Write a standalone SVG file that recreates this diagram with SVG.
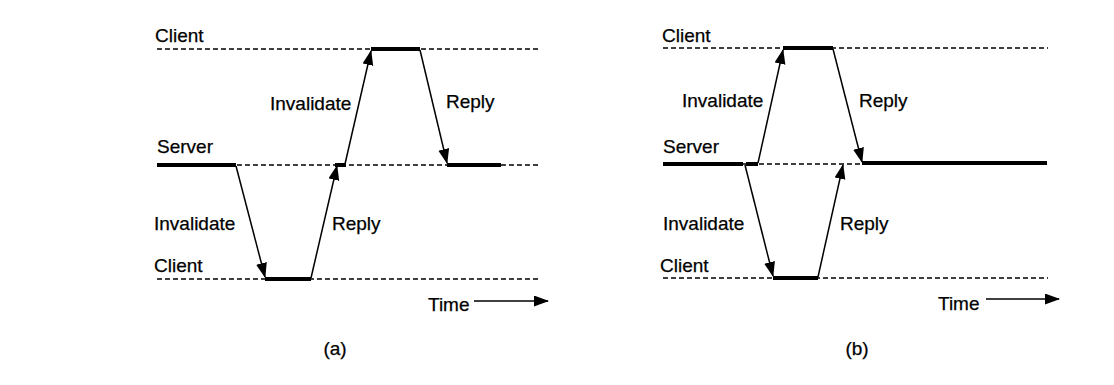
<svg xmlns="http://www.w3.org/2000/svg" width="1114" height="385" viewBox="0 0 1114 385">
<defs>
<marker id="ah" markerUnits="userSpaceOnUse" markerWidth="16" markerHeight="12" refX="14" refY="5.5" orient="auto">
<path d="M0,0 L15,5.5 L0,11 Z" fill="#000"/>
</marker>
<style>
.t{font-family:"Liberation Sans",Arial,sans-serif;font-size:19px;fill:#000;stroke:#000;stroke-width:0.25}
.d{stroke:#000;stroke-width:1.5;stroke-dasharray:5 3;fill:none}
.k{stroke:#000;stroke-width:4;fill:none}
.a{stroke:#000;stroke-width:1.5;fill:none;marker-end:url(#ah)}
</style>
</defs>
<rect width="1114" height="385" fill="#fff"/>
<g id="panel-a">
<g id="a-client-top">
<line class="d" x1="157" y1="49" x2="538" y2="49"/>
<line class="k" x1="371" y1="49" x2="420" y2="49"/>
<text class="t" x="155" y="42">Client</text>
</g>
<g id="a-server">
<line class="d" x1="157" y1="165" x2="538" y2="165"/>
<line class="k" x1="157" y1="165" x2="236" y2="165"/>
<line class="k" x1="335" y1="165" x2="346" y2="165"/>
<line class="k" x1="447" y1="165" x2="501" y2="165"/>
<text class="t" x="157" y="153">Server</text>
</g>
<g id="a-client-bottom">
<line class="d" x1="157" y1="279" x2="538" y2="279"/>
<line class="k" x1="265" y1="279" x2="311" y2="279"/>
<text class="t" x="154" y="272">Client</text>
</g>
<g id="a-connectors">
<line class="a" x1="236" y1="166" x2="265" y2="277"/>
<line class="a" x1="311" y1="278" x2="337" y2="166"/>
<line class="a" x1="345" y1="164" x2="371" y2="51"/>
<line class="a" x1="420" y1="50" x2="447" y2="163"/>
<line class="a" x1="474" y1="301" x2="548" y2="301"/>
</g>
<g id="a-labels">
<text class="t" x="270" y="110">Invalidate</text>
<text class="t" x="446" y="108">Reply</text>
<text class="t" x="154" y="230">Invalidate</text>
<text class="t" x="332" y="230">Reply</text>
<text class="t" x="428" y="311">Time</text>
<text class="t" x="335" y="355" text-anchor="middle">(a)</text>
</g>
</g>
<g id="panel-b">
<g id="b-client-top">
<line class="d" x1="663" y1="48" x2="1048" y2="48"/>
<line class="k" x1="783" y1="48" x2="833" y2="48"/>
<text class="t" x="662" y="42">Client</text>
</g>
<g id="b-server">
<line class="d" x1="663" y1="164" x2="862" y2="164"/>
<line class="k" x1="663" y1="164" x2="743" y2="164"/>
<line class="k" x1="746" y1="164" x2="758" y2="164"/>
<line class="k" x1="862" y1="163" x2="1047" y2="163"/>
<text class="t" x="663" y="153">Server</text>
</g>
<g id="b-client-bottom">
<line class="d" x1="663" y1="278" x2="1048" y2="278"/>
<line class="k" x1="773" y1="278" x2="818" y2="278"/>
<text class="t" x="660" y="272">Client</text>
</g>
<g id="b-connectors">
<line class="a" x1="745" y1="165" x2="773" y2="276"/>
<line class="a" x1="818" y1="277" x2="843" y2="165"/>
<line class="a" x1="758" y1="163" x2="783" y2="50"/>
<line class="a" x1="833" y1="49" x2="862" y2="162"/>
<line class="a" x1="986" y1="299" x2="1059" y2="299"/>
</g>
<g id="b-labels">
<text class="t" x="682" y="107">Invalidate</text>
<text class="t" x="859" y="107">Reply</text>
<text class="t" x="663" y="230">Invalidate</text>
<text class="t" x="840" y="230">Reply</text>
<text class="t" x="938" y="310">Time</text>
<text class="t" x="857" y="355" text-anchor="middle">(b)</text>
</g>
</g>
</svg>
